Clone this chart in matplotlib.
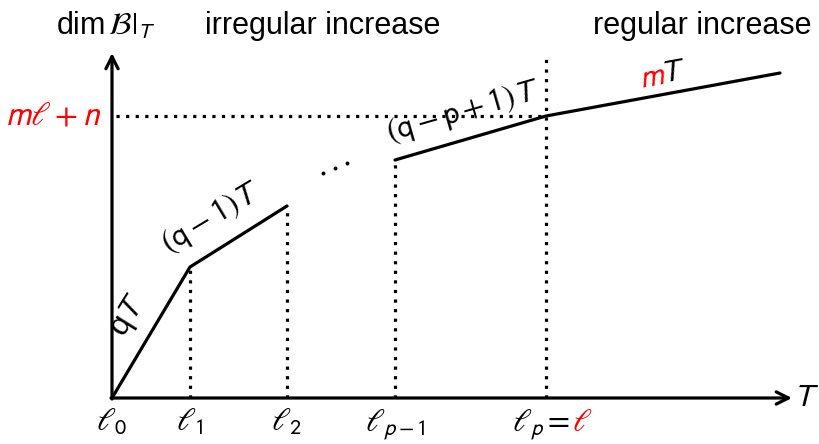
import matplotlib.pyplot as plt

plt.rcParams['font.family'] = ['Liberation Sans', 'DejaVu Sans']
plt.rcParams['mathtext.fontset'] = 'stixsans'

# breakpoints of the piecewise-linear dimension curve (diagram units)
ell = [0, 78, 175, 283, 434]
ell_labels = [r'$\ell_0$', r'$\ell_1$', r'$\ell_2$', r'$\ell_{p-1}$', r'$\ell_p=$']
seg_a_x = [0, 78, 175]
seg_a_y = [0, 131, 192]
seg_b_x = [283, 434, 668]
seg_b_y = [238, 282, 325]
level = 282  # m*l + n
x_end = 680
y_end = 345

fig = plt.figure(figsize=(8.2, 4.44), dpi=100)
ax = fig.add_axes([0, 0, 1, 1])
ax.set_xlim(-112, 708)
ax.set_ylim(-46, 398)
ax.axis('off')

lw = 2.3
fs = 22
fm = 23  # math labels

# axes with arrows
ax.annotate('', xy=(x_end, 0), xytext=(-1, 0),
            arrowprops=dict(arrowstyle='->', lw=lw, color='black',
                            mutation_scale=22, shrinkA=0, shrinkB=0))
ax.annotate('', xy=(0, y_end), xytext=(0, -1),
            arrowprops=dict(arrowstyle='->', lw=lw, color='black',
                            mutation_scale=22, shrinkA=0, shrinkB=0))

# curve
ax.plot(seg_a_x, seg_a_y, color='black', lw=lw, solid_capstyle='round')
ax.plot(seg_b_x, seg_b_y, color='black', lw=lw, solid_capstyle='round')

# dotted guides
dot = dict(color='black', lw=2.3, linestyle=(0, (1, 2.0)))
ax.plot([seg_a_x[1], seg_a_x[1]], [0, seg_a_y[1]], **dot)
ax.plot([seg_a_x[2], seg_a_x[2]], [0, seg_a_y[2]], **dot)
ax.plot([seg_b_x[0], seg_b_x[0]], [0, seg_b_y[0]], **dot)
ax.plot([ell[4], ell[4]], [0, 342], **dot)
ax.plot([4, ell[4]], [level, level], **dot)

# dots between the segments
ax.plot([211, 223, 235], [225, 230, 235], 'o', color='black', ms=1.8)

# tick labels
for x, lab in zip(ell[:-1], ell_labels[:-1]):
    ax.text(x, -33, lab, ha='center', va='baseline', fontsize=fm)
ax.text(ell[4] + 24, -33, ell_labels[-1], ha='right', va='baseline',
        fontsize=fm)
ax.text(ell[4] + 26, -33, r'$\ell$', ha='left', va='baseline', fontsize=fm,
        color='red')

ax.text(-10, level, r'$m\ell+n$', ha='right', va='center', fontsize=fm + 1,
        color='red')
ax.text(x_end + 1, 0, r'$T$', ha='left', va='center', fontsize=fm)

# header texts
ax.text(-56, 372, r'dim$\,\mathcal{B}|_T$', ha='left', va='center', fontsize=fs)
ax.text(93, 372, 'irregular increase', ha='left', va='center', fontsize=fs)
ax.text(700, 372, 'regular increase', ha='right', va='center', fontsize=fs)

# slope labels
ax.text(17, 82, r'q$T$', ha='center', va='center', fontsize=fm, rotation=58)
ax.text(100, 180, r'$\mathrm{(q-1)}T$', ha='center', va='center', fontsize=fm,
        rotation=31)
ax.text(351, 286, r'$\mathrm{(q-p+1)}T$', ha='center', va='center',
        fontsize=fm, rotation=16)
ax.text(540, 320, r'$m$', ha='center', va='center', fontsize=fm,
        color='red', rotation=10)
ax.text(561, 325, r'$T$', ha='center', va='center', fontsize=fm, rotation=10)

fig.savefig('out.png', dpi=100)
